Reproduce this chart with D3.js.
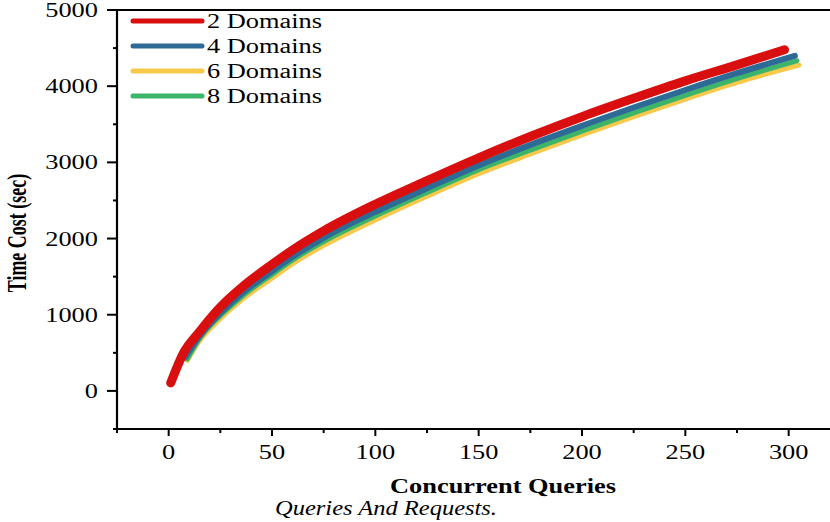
<!DOCTYPE html>
<html>
<head>
<meta charset="utf-8">
<script src="https://cdn.jsdelivr.net/npm/d3@7"></script>
<style>
	body { margin: 0; background: #fff; }
	text { font-family: "Liberation Serif", "DejaVu Serif", serif; }
</style>
</head>
<body>
<div id="chart"></div>
<script>

// values
var seriesNames = ['2 Domains', '4 Domains', '6 Domains', '8 Domains'];
var seriesColors = ['#d90e0e', '#2e6a96', '#f7c84a', '#3cb56a'];

var x2 = [1, 7, 15, 25, 35, 50, 60, 75, 100, 125, 150, 175, 200, 225, 250, 275, 298];
var y2 = [105, 490, 780, 1100, 1350, 1660, 1850, 2100, 2450, 2760, 3060, 3340, 3600, 3840, 4070, 4280, 4478];

var x4 = [8, 15, 25, 35, 50, 60, 75, 100, 125, 150, 175, 200, 225, 250, 275, 303];
var y4 = [440, 720, 1020, 1270, 1570, 1760, 2010, 2350, 2660, 2960, 3230, 3480, 3720, 3950, 4170, 4398];

var x6 = [9, 15, 25, 35, 50, 60, 75, 100, 125, 150, 175, 200, 225, 250, 275, 305];
var y6 = [400, 660, 950, 1190, 1480, 1670, 1910, 2245, 2555, 2850, 3110, 3360, 3600, 3830, 4050, 4276];

var x8 = [9, 15, 25, 35, 50, 60, 75, 100, 125, 150, 175, 200, 225, 250, 275, 304];
var y8 = [420, 690, 990, 1230, 1530, 1720, 1960, 2295, 2605, 2905, 3160, 3410, 3650, 3880, 4100, 4333];

var xTicks = [0, 50, 100, 150, 200, 250, 300];
var yTicks = [0, 1000, 2000, 3000, 4000, 5000];

var width = 830,
	height = 522,
	plotLeft = 117,
	plotTop = 10,
	plotBottom = 429,
	stretch = 1.32; // the picture's text is drawn wide

var x = d3.scaleLinear().domain([-25, 320]).range([plotLeft, 830]);
var y = d3.scaleLinear().domain([-500, 5000]).range([plotBottom, plotTop]);

var svg = d3.select('#chart')
	.append('svg')
	.attr('width', width)
	.attr('height', height);

function zipped(xs, ys){
	return xs.map(function(v, i){ return [v, ys[i]]; });
}

function wide(px, py){
	return 'translate(' + px + ',' + py + ') scale(' + stretch + ',1)';
}

// draw order: yellow, green, blue, red on top
var series = [
	{ name: seriesNames[2], color: seriesColors[2], pts: zipped(x6, y6), w: 5 },
	{ name: seriesNames[3], color: seriesColors[3], pts: zipped(x8, y8), w: 5 },
	{ name: seriesNames[1], color: seriesColors[1], pts: zipped(x4, y4), w: 6 },
	{ name: seriesNames[0], color: seriesColors[0], pts: zipped(x2, y2), w: 9 }
];

var line = d3.line()
	.curve(d3.curveMonotoneX)
	.x(function(d){ return x(d[0]); })
	.y(function(d){ return y(d[1]); });

svg.selectAll('path.series')
	.data(series)
	.enter()
	.append('path')
	.attr('class', 'series')
	.attr('fill', 'none')
	.attr('stroke', function(d){ return d.color; })
	.attr('stroke-width', function(d){ return d.w; })
	.attr('stroke-linecap', 'round')
	.attr('stroke-linejoin', 'round')
	.attr('d', function(d){ return line(d.pts); });

// x axis
var gx = svg.append('g')
	.attr('transform', 'translate(0,' + plotBottom + ')');

gx.append('line')
	.attr('x1', plotLeft).attr('x2', 830)
	.attr('stroke', '#000').attr('stroke-width', 2.2);

gx.selectAll('line.tick')
	.data(d3.range(-25, 320, 25))
	.enter()
	.append('line')
	.attr('class', 'tick')
	.attr('x1', function(d){ return x(d); })
	.attr('x2', function(d){ return x(d); })
	.attr('y1', 0)
	.attr('y2', function(d){ return d % 50 === 0 ? 7 : 4; })
	.attr('stroke', '#000')
	.attr('stroke-width', 2);

gx.selectAll('text')
	.data(xTicks)
	.enter()
	.append('text')
	.attr('transform', function(d){ return wide(x(d), 30); })
	.attr('text-anchor', 'middle')
	.attr('font-size', 20)
	.text(function(d){ return d; });

// y axis and top frame
var gy = svg.append('g');

gy.append('line')
	.attr('x1', plotLeft).attr('x2', plotLeft)
	.attr('y1', plotTop).attr('y2', plotBottom + 1)
	.attr('stroke', '#000').attr('stroke-width', 2.2);

gy.append('line')
	.attr('x1', plotLeft - 10).attr('x2', 830)
	.attr('y1', plotTop).attr('y2', plotTop)
	.attr('stroke', '#000').attr('stroke-width', 2.2);

gy.selectAll('line.tick')
	.data(d3.range(-500, 5001, 500))
	.enter()
	.append('line')
	.attr('class', 'tick')
	.attr('y1', function(d){ return y(d); })
	.attr('y2', function(d){ return y(d); })
	.attr('x1', function(d){ return d % 1000 === 0 ? plotLeft - 10 : plotLeft - 4; })
	.attr('x2', plotLeft)
	.attr('stroke', '#000')
	.attr('stroke-width', 2);

gy.selectAll('text')
	.data(yTicks)
	.enter()
	.append('text')
	.attr('transform', function(d){ return wide(98, y(d) + 7); })
	.attr('text-anchor', 'end')
	.attr('font-size', 20)
	.text(function(d){ return d; });

// titles
svg.append('text')
	.attr('transform', 'translate(26,233) scale(1.5,1) rotate(-90)')
	.attr('text-anchor', 'middle')
	.attr('font-size', 18)
	.attr('font-weight', 'bold')
	.text('Time Cost (sec)');

svg.append('text')
	.attr('transform', wide(503, 493))
	.attr('text-anchor', 'middle')
	.attr('font-size', 20)
	.attr('font-weight', 'bold')
	.text('Concurrent Queries');

svg.append('text')
	.attr('x', 275)
	.attr('y', 515)
	.attr('font-size', 21)
	.attr('font-style', 'italic')
	.attr('textLength', 222)
	.attr('lengthAdjust', 'spacingAndGlyphs')
	.text('Queries And Requests.');

// legend
var legend = svg.selectAll('g.legend')
	.data(seriesNames)
	.enter()
	.append('g')
	.attr('class', 'legend')
	.attr('transform', function(d, i){ return 'translate(133,' + (21 + i * 25) + ')'; });

legend.append('line')
	.attr('x1', 0).attr('x2', 69)
	.attr('stroke', function(d, i){ return seriesColors[i]; })
	.attr('stroke-width', 5)
	.attr('stroke-linecap', 'round');

legend.append('text')
	.attr('transform', wide(74, 7))
	.attr('font-size', 20)
	.text(function(d){ return d; });

</script>
</body>
</html>
